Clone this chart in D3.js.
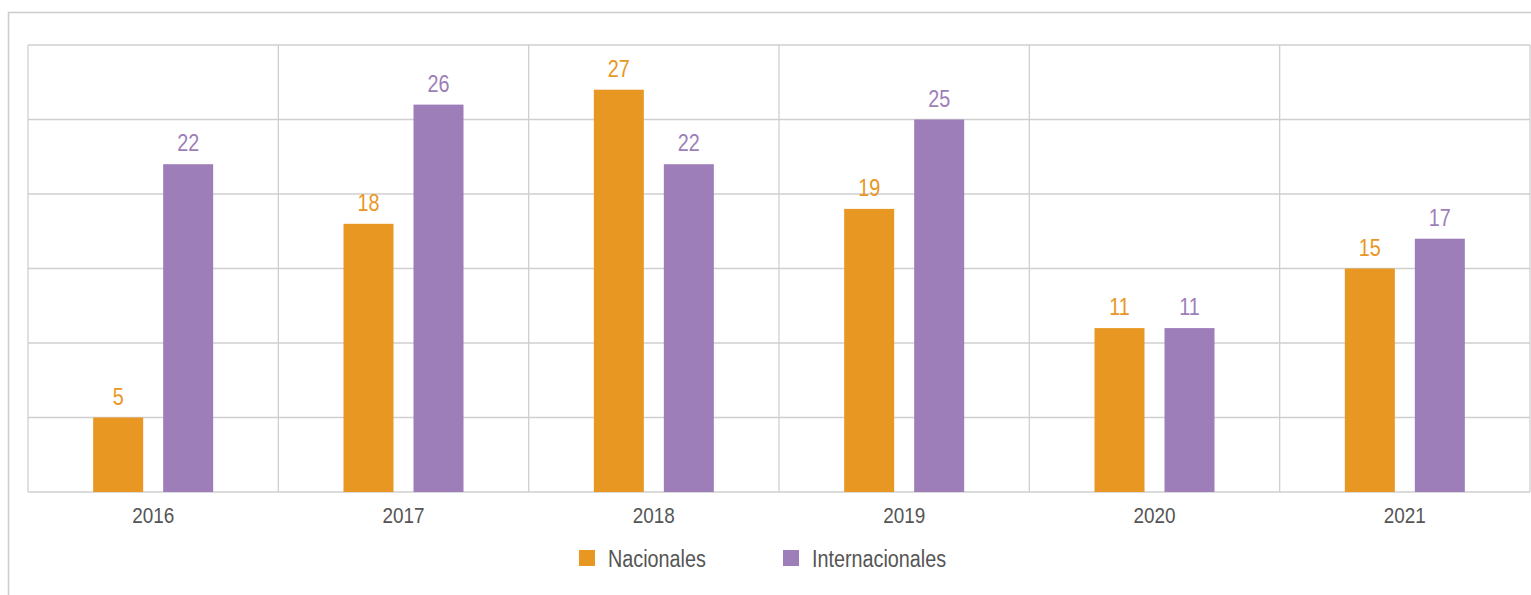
<!DOCTYPE html>
<html>
<head>
<meta charset="utf-8">
<script src="https://cdn.jsdelivr.net/npm/d3@7"></script>
<style>
  html, body { margin: 0; padding: 0; background: #fff; }
  svg { display: block; }
  text { font-family: "Liberation Sans Narrow", "Liberation Sans", Arial, sans-serif; }
</style>
</head>
<body>
<svg id="chart" width="1531" height="595"></svg>
<script>
const years = ["2016", "2017", "2018", "2019", "2020", "2021"];
const nacionales = [5, 18, 27, 19, 11, 15];
const internacionales = [22, 26, 22, 25, 11, 17];
const seriesNames = ["Nacionales", "Internacionales"];
const seriesColors = ["#E89722", "#9D7EB8"];
const yTicks = [0, 5, 10, 15, 20, 25, 30];

const svg = d3.select("#chart");
const W = 1531, H = 595;
const plot = { left: 28, top: 45, right: 1530, bottom: 492 };
const squeeze = 0.86; // condensed lettering

// outer panel frame (only the top and left edges fall inside the view)
svg.append("path")
  .attr("d", `M8.5,${H} V12.5 H${W}`)
  .attr("fill", "none")
  .attr("stroke", "#cccccc")
  .attr("stroke-width", 1.5);

const x = d3.scaleBand().domain(years).range([plot.left, plot.right]);
const y = d3.scaleLinear().domain([0, 30]).range([plot.bottom, plot.top]);

// horizontal gridlines
svg.append("g").selectAll("line").data(yTicks).join("line")
  .attr("x1", plot.left).attr("x2", plot.right)
  .attr("y1", d => y(d)).attr("y2", d => y(d))
  .attr("stroke", "#cfcfcf").attr("stroke-width", 1.3);

// category separators
const seps = years.map(d => x(d)).concat([x.range()[1]]);
svg.append("g").selectAll("line").data(seps).join("line")
  .attr("x1", d => d).attr("x2", d => d)
  .attr("y1", plot.top).attr("y2", plot.bottom)
  .attr("stroke", "#cfcfcf").attr("stroke-width", 1.3);

const data = years.map((yr, i) => ({ year: yr, values: [nacionales[i], internacionales[i]] }));
const barW = 50, offset = [-60, 10];

const groups = svg.append("g").selectAll("g").data(data).join("g")
  .attr("transform", d => `translate(${x(d.year) + x.bandwidth() / 2},0)`);

groups.selectAll("rect").data(d => d.values.map((v, k) => ({ v, k }))).join("rect")
  .attr("x", d => offset[d.k])
  .attr("y", d => y(d.v))
  .attr("width", barW)
  .attr("height", d => y(0) - y(d.v))
  .attr("fill", d => seriesColors[d.k]);

groups.selectAll("text.val").data(d => d.values.map((v, k) => ({ v, k }))).join("text")
  .attr("class", "val")
  .attr("transform", d => `translate(${offset[d.k] + barW / 2},${y(d.v) - 13}) scale(${squeeze},1)`)
  .attr("text-anchor", "middle")
  .attr("font-size", 23)
  .attr("fill", d => seriesColors[d.k])
  .text(d => d.v);

// x axis labels
const xAxis = d3.axisBottom(x).tickSize(0).tickPadding(0);
const gx = svg.append("g").attr("transform", `translate(0,${plot.bottom})`).call(xAxis);
gx.select(".domain").remove();
gx.selectAll("text")
  .attr("dy", null)
  .attr("y", null)
  .attr("transform", `translate(0,31) scale(${squeeze},1)`)
  .attr("font-size", 22)
  .attr("font-family", "Liberation Sans Narrow, Liberation Sans, Arial, sans-serif")
  .attr("fill", "#555555");

// legend
const legendX = [579, 783];
const legend = svg.append("g").selectAll("g").data(seriesNames).join("g")
  .attr("transform", (d, i) => `translate(${legendX[i]},550)`);
legend.append("rect").attr("width", 16).attr("height", 16)
  .attr("fill", (d, i) => seriesColors[i]);
legend.append("text")
  .attr("transform", `translate(29,17) scale(${squeeze},1)`)
  .attr("font-size", 23)
  .attr("fill", "#555555")
  .text(d => d);
</script>
</body>
</html>
